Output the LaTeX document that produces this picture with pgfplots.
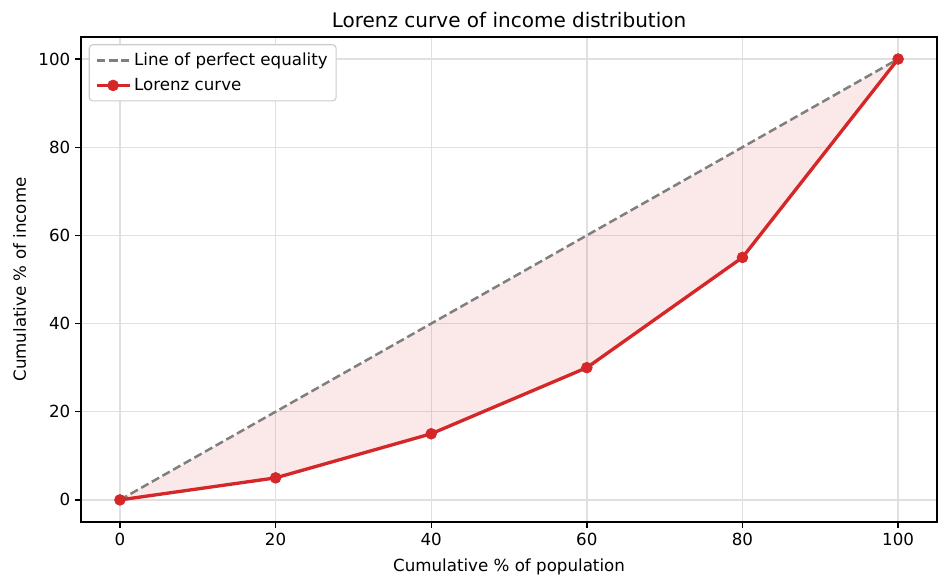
\documentclass[border=0pt]{standalone}
\usepackage{fontspec}
\setmainfont{DejaVu Sans}
\usepackage{pgfplots}
\pgfplotsset{compat=1.18}
\definecolor{tabred}{HTML}{D62728}
\definecolor{tabgray}{HTML}{7F7F7F}
\begin{document}
\begin{tikzpicture}
\begin{axis}[
  scale only axis, width=616pt, height=349pt,
  xmin=-5, xmax=105, ymin=-5, ymax=105,
  xtick={0,20,40,60,80,100}, ytick={0,20,40,60,80,100},
  tick align=outside, tick pos=left, major tick length=4.2pt,
  every tick/.style={black, line width=0.96pt},
  axis line style={line width=0.96pt},
  grid=major, grid style={black!12, line width=0.96pt},
  title={Lorenz curve of income distribution},
  title style={font=\fontsize{14.4}{17}\selectfont, yshift=-3pt},
  xlabel={Cumulative \% of population},
  ylabel={Cumulative \% of income},
  xlabel style={yshift=-3pt},
  ylabel style={yshift=2pt},
  label style={font=\fontsize{12}{14}\selectfont},
  tick label style={font=\fontsize{12}{14}\selectfont},
  /pgf/number format/assume math mode=true,
  legend cell align=left,
  legend style={at={(0.009,0.985)}, anchor=north west, draw=black!20, line width=0.8pt, rounded corners=2.5pt,
    font=\fontsize{12}{14}\selectfont, inner xsep=4pt, inner ysep=4pt, row sep=3.5pt},
  legend image code/.code={\draw[mark repeat=2, mark phase=2, #1] plot coordinates {(0cm,0cm) (0.42cm,0cm) (0.84cm,0cm)};},
]
\addplot[draw=none, fill=tabred, fill opacity=0.1, forget plot]
  coordinates {(0,0) (20,20) (40,40) (60,60) (80,80) (100,100) (80,55) (60,30) (40,15) (20,5) (0,0)} -- cycle;
\addplot[tabgray, line width=1.8pt, dash pattern=on 6pt off 2.8pt] coordinates {(0,0) (100,100)};
\addlegendentry{Line of perfect equality}
\addplot[tabred, line width=2.4pt, mark=*, mark size=3.9pt, mark options={solid, fill=tabred, draw=tabred, line width=0.5pt}]
  coordinates {(0,0) (20,5) (40,15) (60,30) (80,55) (100,100)};
\addlegendentry{Lorenz curve}
\end{axis}
\path ([xshift=-58.3pt,yshift=-47.5pt]current axis.south west) rectangle ([xshift=8.6pt,yshift=26.6pt]current axis.north east);
\end{tikzpicture}
\end{document}
